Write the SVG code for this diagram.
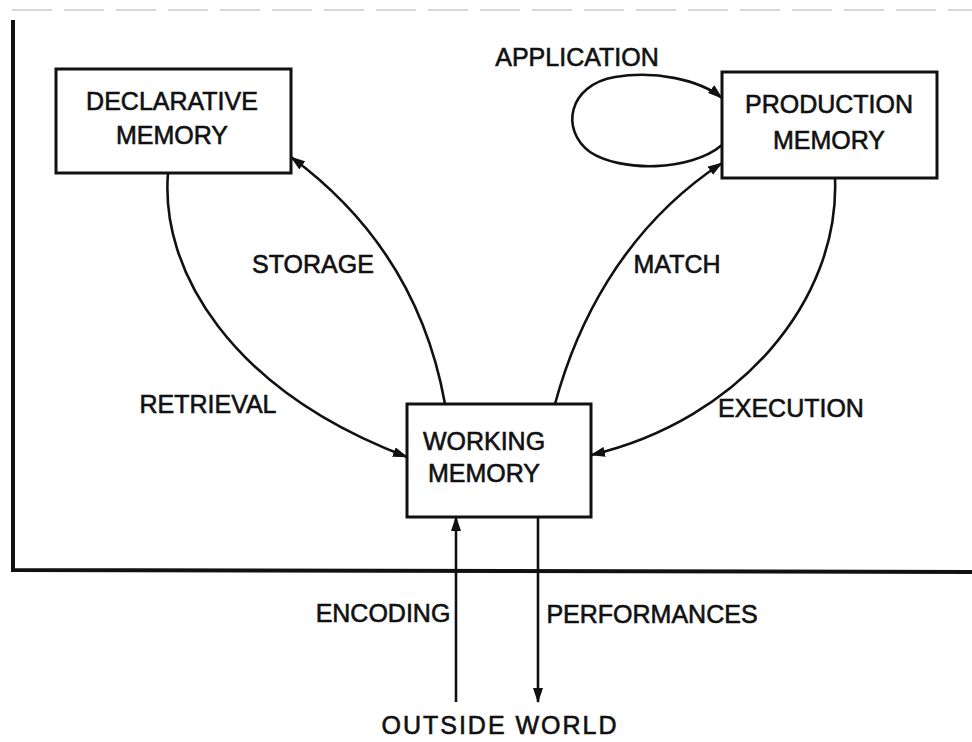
<svg xmlns="http://www.w3.org/2000/svg" width="972" height="742" viewBox="0 0 972 742">
<defs>
<style>
.box{fill:#fff;stroke:#111;stroke-width:3}
.t{font-family:"Liberation Sans",Arial,sans-serif;font-size:25px;fill:#111;stroke:#111;stroke-width:0.6;text-anchor:middle}
.c{fill:none;stroke:#111;stroke-width:2.6}
.frame{fill:none;stroke:#111;stroke-width:4}
</style>
<marker id="a" viewBox="0 0 15 10" refX="14" refY="5" markerWidth="15" markerHeight="10" markerUnits="userSpaceOnUse" orient="auto">
<path d="M0,0 L15,5 L0,10 Z" fill="#111"/>
</marker>
</defs>
<rect width="972" height="742" fill="#fff"/>
<g id="frame">
<line x1="12" y1="10" x2="972" y2="10" stroke="#ccc" stroke-width="1.5" stroke-dasharray="40 12"/>
<path class="frame" d="M13,20 L13,570 L972,572"/>
</g>
<g id="connectors">
<path class="c" d="M445,404 C430,320 390,230 291,157" marker-end="url(#a)"/>
<path class="c" d="M168,173 C160,270 230,390 407,457" marker-end="url(#a)"/>
<path class="c" d="M555,404 C575,330 620,230 722,163" marker-end="url(#a)"/>
<path class="c" d="M835,178 C840,300 740,420 591,455" marker-end="url(#a)"/>
<path class="c" d="M722,145 C690,172 620,172 590,152 C560,130 568,85 615,77 C655,70 700,80 722,98" marker-end="url(#a)"/>
<line class="c" x1="456" y1="702" x2="456" y2="517" marker-end="url(#a)"/>
<line class="c" x1="538" y1="517" x2="538" y2="702" marker-end="url(#a)"/>
</g>
<g id="declarative">
<rect class="box" x="56" y="69" width="235" height="104"/>
<text class="t" x="172" y="110">DECLARATIVE</text>
<text class="t" x="172" y="144">MEMORY</text>
</g>
<g id="production">
<rect class="box" x="722" y="72" width="215" height="106"/>
<text class="t" x="829" y="113">PRODUCTION</text>
<text class="t" x="829" y="149">MEMORY</text>
</g>
<g id="working">
<rect class="box" x="407" y="404" width="184" height="113"/>
<text class="t" x="484" y="450">WORKING</text>
<text class="t" x="484" y="482">MEMORY</text>
</g>
<g id="labels">
<text class="t" x="577" y="66">APPLICATION</text>
<text class="t" x="313" y="273">STORAGE</text>
<text class="t" x="677" y="273">MATCH</text>
<text class="t" x="208" y="413">RETRIEVAL</text>
<text class="t" x="791" y="417">EXECUTION</text>
<text class="t" x="383" y="622">ENCODING</text>
<text class="t" x="652" y="623">PERFORMANCES</text>
<text class="t" x="500" y="734" letter-spacing="2">OUTSIDE WORLD</text>
</g>
</svg>
